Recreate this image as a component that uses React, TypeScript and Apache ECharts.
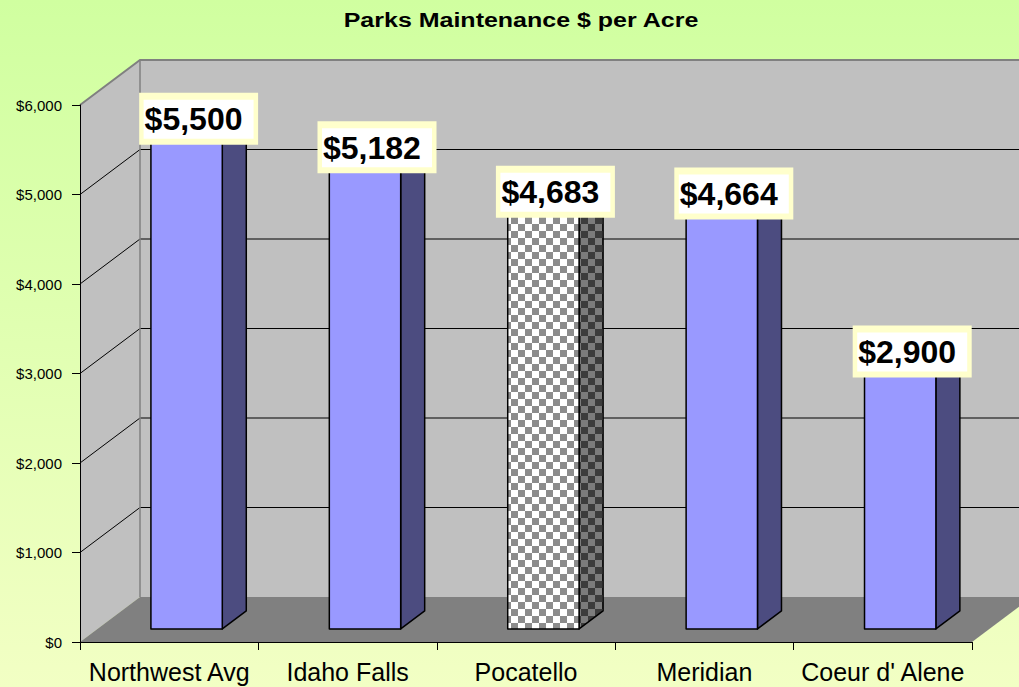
import React, { useEffect, useRef } from "react";
import * as echarts from "echarts";

const chartTitle = "Parks Maintenance $ per Acre";
const categories = ["Northwest Avg", "Idaho Falls", "Pocatello", "Meridian", "Coeur d' Alene"];
const values = [5500, 5182, 4683, 4664, 2900];
const highlighted = "Pocatello";
const yTicks = [0, 1000, 2000, 3000, 4000, 5000, 6000];
const yMax = 6000;

const fmtMoney = (v: number) => "$" + v.toLocaleString("en-US");

// 3D depth of the chart box (pixels)
const DX = 60;
const DY = -45;

function makeChecker(c1: string, c2: string, cell: number) {
  const cv = document.createElement("canvas");
  cv.width = cell * 2;
  cv.height = cell * 2;
  const ctx = cv.getContext("2d")!;
  ctx.fillStyle = c1;
  ctx.fillRect(0, 0, cell * 2, cell * 2);
  ctx.fillStyle = c2;
  ctx.fillRect(0, 0, cell, cell);
  ctx.fillRect(cell, cell, cell, cell);
  return cv;
}

export default function App() {
  const ref = useRef<HTMLDivElement>(null);
  useEffect(() => {
    if (!ref.current) return;
    const chart = echarts.init(ref.current, undefined, { renderer: "svg" });
    const cell = 7;
    const frontCanvas = makeChecker("#ffffff", "#8c8c8c", cell);
    const sideCanvas = makeChecker("#7c7c7c", "#3c3c3c", cell);
    const frontPattern: any = { image: frontCanvas, repeat: "repeat", imageWidth: cell * 2, imageHeight: cell * 2 };
    const sidePattern: any = { image: sideCanvas, repeat: "repeat", imageWidth: cell * 2, imageHeight: cell * 2 };

    const renderWalls = (params: any, api: any) => {
      const band = api.size([1, 0])[0];
      const p0 = api.coord([0, 0]);
      const xL = p0[0] - band / 2;
      const xR = api.coord([categories.length - 1, 0])[0] + band / 2;
      const y0 = p0[1];
      const yTop = api.coord([0, yMax])[1];
      const children: any[] = [];
      children.push({
        type: "polygon",
        shape: { points: [[xL + DX, yTop + DY], [xR + DX, yTop + DY], [xR + DX, y0 + DY], [xL + DX, y0 + DY]] },
        style: { fill: "#c0c0c0" },
      });
      children.push({
        type: "polygon",
        shape: { points: [[xL, y0], [xL, yTop], [xL + DX, yTop + DY], [xL + DX, y0 + DY]] },
        style: { fill: "#c0c0c0" },
      });
      children.push({
        type: "polygon",
        shape: { points: [[xL, y0], [xL + DX, y0 + DY], [xR + DX, y0 + DY], [xR, y0]] },
        style: { fill: "#808080" },
      });
      yTicks.forEach((t) => {
        if (t === 0) return;
        const y = api.coord([0, t])[1];
        const isTop = t === yMax;
        const stroke = isTop ? "#808080" : "#000000";
        const lw = isTop ? 2 : 1;
        children.push({
          type: "polyline",
          shape: { points: [[xL, y], [xL + DX, y + DY], [xR + DX + 2, y + DY]] },
          style: { stroke, lineWidth: lw, fill: "none" },
        });
      });
      children.push({
        type: "line",
        shape: { x1: xL + DX, y1: yTop + DY, x2: xL + DX, y2: y0 + DY },
        style: { stroke: "#808080", lineWidth: 1.5 },
      });
      return { type: "group", children };
    };

    const renderBar = (params: any, api: any) => {
      const i = api.value(0);
      const v = api.value(1);
      const base = api.coord([i, 0]);
      const top = api.coord([i, v]);
      const band = api.size([1, 0])[0];
      const w = band * 0.4;
      const fx = DX * 0.29, fy = DY * 0.29;
      const sx = DX * 0.4, sy = DY * 0.4;
      const x1 = base[0] - w / 2 + fx;
      const x2 = x1 + w;
      const yb = base[1] + fy;
      const yt = top[1] + fy;
      const isHi = categories[i] === highlighted;
      const frontFill = isHi ? frontPattern : "#9999ff";
      const sideFill = isHi ? sidePattern : "#4c4c80";
      const edge = { stroke: "#000000", lineWidth: 1.5, lineJoin: "round" };
      const cx = x1 + (w + sx) / 2;
      const cy = yt + sy;
      return {
        type: "group",
        children: [
          {
            type: "polygon",
            shape: { points: [[x2, yb], [x2, yt], [x2 + sx, yt + sy], [x2 + sx, yb + sy]] },
            style: { fill: sideFill, ...edge },
          },
          {
            type: "polygon",
            shape: { points: [[x1, yt], [x2, yt], [x2 + sx, yt + sy], [x1 + sx, yt + sy]] },
            style: { fill: isHi ? "#bbbbbb" : "#b3b3ff", ...edge },
          },
          {
            type: "rect",
            shape: { x: x1, y: yt, width: w, height: yb - yt },
            style: { fill: frontFill, ...edge },
          },
          {
            type: "rect",
            z2: 20,
            shape: { x: cx - 59.5, y: cy - 26, width: 119, height: 52 },
            style: { fill: "#ffffcc" },
          },
          {
            type: "rect",
            z2: 21,
            shape: { x: cx - 55, y: cy - 19, width: 110, height: 39 },
            style: { fill: "#ffffff" },
          },
          {
            type: "text",
            z2: 22,
            x: cx - 54,
            y: cy + 0.5,
            style: {
              text: fmtMoney(v),
              fontFamily: "Arial, 'Liberation Sans', sans-serif",
              fontSize: 32,
              fontWeight: "bold",
              fill: "#000000",
              textAlign: "left",
              textVerticalAlign: "middle",
            },
          },
        ],
      };
    };

    const option: any = {
      animation: false,
      backgroundColor: new echarts.graphic.LinearGradient(0, 0, 0, 1, [
        { offset: 0, color: "#d0ffa0" },
        { offset: 1, color: "#f2ffc4" },
      ]),
      graphic: [
        {
          type: "text",
          x: 521,
          y: 20,
          scaleX: 1.25,
          style: {
            text: chartTitle,
            x: 0,
            y: 0,
            fontFamily: "Arial, 'Liberation Sans', sans-serif",
            fontSize: 20,
            fontWeight: "bold",
            fill: "#000000",
            textAlign: "center",
            textVerticalAlign: "middle",
          },
        },
      ],
      grid: { left: 80, top: 105, width: 892, height: 537, containLabel: false },
      xAxis: {
        type: "category",
        data: categories,
        z: 10,
        axisLine: { show: true, lineStyle: { color: "#000000", width: 1 } },
        axisTick: { show: true, length: 8, lineStyle: { color: "#000000" } },
        axisLabel: {
          color: "#000000",
          fontSize: 25,
          fontFamily: "Arial, 'Liberation Sans', sans-serif",
          margin: 17,
          interval: 0,
        },
        splitLine: { show: false },
      },
      yAxis: {
        type: "value",
        min: 0,
        max: yMax,
        interval: 1000,
        z: 10,
        axisLine: { show: true, lineStyle: { color: "#000000", width: 1 } },
        axisTick: { show: true, length: 8, lineStyle: { color: "#000000" } },
        axisLabel: {
          color: "#000000",
          fontSize: 15,
          fontFamily: "Arial, 'Liberation Sans', sans-serif",
          margin: 18,
          formatter: (v: number) => fmtMoney(v),
        },
        splitLine: { show: false },
      },
      series: [
        {
          type: "custom",
          name: "walls",
          z: 1,
          clip: false,
          silent: true,
          renderItem: renderWalls,
          data: [[0, 0]],
          encode: { x: 0, y: 1 },
        },
        {
          type: "custom",
          name: "$ per Acre",
          z: 2,
          clip: false,
          renderItem: renderBar,
          data: values.map((v, i) => [i, v]),
          encode: { x: 0, y: 1 },
        },
      ],
    };
    chart.setOption(option);
    return () => chart.dispose();
  }, []);
  return <div ref={ref} style={{ position: "absolute", left: 0, top: 0, width: 1019, height: 687 }} />;
}
